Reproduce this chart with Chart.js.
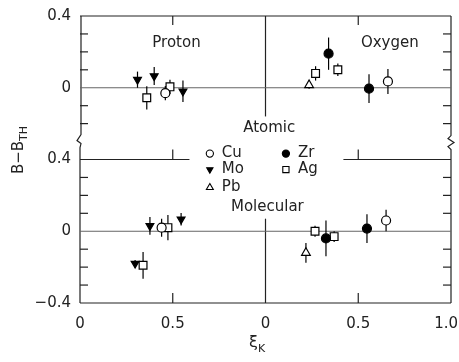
<!DOCTYPE html>
<html>
<head>
<meta charset="utf-8">
<script src="https://cdn.jsdelivr.net/npm/chart.js@4.4.0/dist/chart.umd.min.js"></script>
<style>
  body { margin: 0; background: #fff; }
  #wrap { width: 459px; height: 362px; }
</style>
</head>
<body>
<div id="wrap"><canvas id="grafico"></canvas></div>
<script>
// elementos do alvo
const elementos = ['Cu', 'Mo', 'Pb', 'Zr', 'Ag'];

// [elemento, xi_K, B - B_TH, erro]
const protonAtomico = [
  ['Mo', 0.31, 0.045, 0.045],
  ['Mo', 0.40, 0.065, 0.05],
  ['Mo', 0.555, -0.02, 0.06],
  ['Ag', 0.36, -0.056, 0.065],
  ['Ag', 0.485, 0.005, 0.04],
  ['Cu', 0.46, -0.03, 0.04]
];
const oxigenioAtomico = [
  ['Pb', 0.235, 0.015, 0.02],
  ['Ag', 0.27, 0.08, 0.04],
  ['Ag', 0.39, 0.10, 0.035],
  ['Zr', 0.34, 0.19, 0.09],
  ['Zr', 0.558, -0.005, 0.08],
  ['Cu', 0.66, 0.035, 0.07]
];
const protonMolecular = [
  ['Mo', 0.377, 0.03, 0.05],
  ['Mo', 0.545, 0.067, 0.035],
  ['Mo', 0.297, -0.18, 0.02],
  ['Cu', 0.44, 0.02, 0.05],
  ['Ag', 0.474, 0.02, 0.07],
  ['Ag', 0.34, -0.19, 0.075]
];
const oxigenioMolecular = [
  ['Ag', 0.267, 0.0, 0.03],
  ['Ag', 0.37, -0.03, 0.03],
  ['Pb', 0.218, -0.12, 0.055],
  ['Zr', 0.326, -0.04, 0.1],
  ['Zr', 0.547, 0.015, 0.08],
  ['Cu', 0.65, 0.06, 0.06]
];

// eixos: dois paineis lado a lado e dois empilhados num eixo so
const yTicks = [-0.4, 0, 0.4, 0.8, 1.2];
const yTickLabels = ['\u22120.4', '0', '0.4', '0', '0.4'];
const yMinor = [-0.3, -0.2, -0.1, 0.1, 0.2, 0.3, 0.6, 0.7, 0.9, 1.0, 1.1];
const xTicks = [0, 0.5, 1, 1.5, 2];
// o ultimo leva um espaco no fim para nao sair do canvas
const xTickLabels = ['0', '0.5', '0', '0.5', '1.0\u2007'];

const paineis = [
  { dados: protonAtomico, dx: 0, dy: 0.8 },
  { dados: oxigenioAtomico, dx: 1, dy: 0.8 },
  { dados: protonMolecular, dx: 0, dy: 0 },
  { dados: oxigenioMolecular, dx: 1, dy: 0 }
];

const estilos = {
  Cu: { pointStyle: 'circle', fundo: '#fff', raio: 4.5, rot: 0 },
  Mo: { pointStyle: 'triangle', fundo: '#000', raio: 4.5, rot: 180 },
  Pb: { pointStyle: 'triangle', fundo: '#fff', raio: 5, rot: 0 },
  Zr: { pointStyle: 'circle', fundo: '#000', raio: 4.5, rot: 0 },
  Ag: { pointStyle: 'rect', fundo: '#fff', raio: 5.5, rot: 0 }
};

const FONTE = '"DejaVu Sans", sans-serif';
const COR_TEXTO = '#222';

const datasets = elementos.map(el => {
  const pontos = [];
  paineis.forEach(p => {
    p.dados.filter(d => d[0] === el).forEach(d => {
      pontos.push({ x: p.dx + d[1], y: p.dy + d[2], err: d[3] });
    });
  });
  const e = estilos[el];
  return {
    label: el,
    data: pontos,
    pointStyle: e.pointStyle,
    rotation: e.rot,
    pointRadius: e.raio,
    pointHoverRadius: e.raio,
    backgroundColor: e.fundo,
    borderColor: '#000',
    borderWidth: 1.2,
    showLine: false
  };
});

function linha(ctx, pts) {
  ctx.beginPath();
  ctx.moveTo(pts[0][0], pts[0][1]);
  for (let i = 1; i < pts.length; i++) ctx.lineTo(pts[i][0], pts[i][1]);
  ctx.stroke();
}

const desenhoPlugin = {
  id: 'desenho',
  beforeDatasetsDraw(chart) {
    const { ctx, scales: { x, y } } = chart;
    const X = v => x.getPixelForValue(v);
    const Y = v => y.getPixelForValue(v);
    ctx.save();
    ctx.strokeStyle = '#222';
    ctx.lineWidth = 1.2;

    // moldura
    linha(ctx, [[X(0), Y(1.2)], [X(2), Y(1.2)]]);
    linha(ctx, [[X(0), Y(-0.4)], [X(2), Y(-0.4)]]);
    const yq = Y(0.5);
    linha(ctx, [[X(0) + 1, Y(1.2)], [X(0) + 1, yq - 7], [X(0) - 3, yq - 1], [X(0) + 1, yq + 2], [X(0), yq + 6], [X(0), Y(-0.4)]]);
    linha(ctx, [[X(2), Y(1.2)], [X(2), yq - 6], [X(2) - 3, yq - 3], [X(2) + 3, yq + 1], [X(2) - 3, yq + 5], [X(2), yq + 8], [X(2), Y(-0.4)]]);
    // topo do painel de baixo (interrompido pela legenda)
    linha(ctx, [[X(0), Y(0.4)], [X(0.59), Y(0.4)]]);
    linha(ctx, [[X(1.42), Y(0.4)], [X(2), Y(0.4)]]);
    // divisoria entre proton e oxigenio
    linha(ctx, [[X(1), Y(1.2)], [X(1), Y(0.64)]]);
    linha(ctx, [[X(1), Y(0.07)], [X(1), Y(-0.4)]]);

    // ticks menores para dentro
    yMinor.forEach(v => {
      linha(ctx, [[X(0), Y(v)], [X(0) + 8, Y(v)]]);
      linha(ctx, [[X(2), Y(v)], [X(2) - 8, Y(v)]]);
    });
    [0.5, 1.5].forEach(v => {
      linha(ctx, [[X(v), Y(1.2)], [X(v), Y(1.2) + 9]]);
      linha(ctx, [[X(v), Y(-0.4)], [X(v), Y(-0.4) - 10]]);
      linha(ctx, [[X(v), Y(0.4)], [X(v), Y(0.4) - 10]]);
    });

    // linhas de zero
    ctx.strokeStyle = '#666';
    ctx.lineWidth = 1;
    linha(ctx, [[X(0), Y(0.8)], [X(2), Y(0.8)]]);
    linha(ctx, [[X(0), Y(0)], [X(2), Y(0)]]);

    // barras de erro
    ctx.strokeStyle = '#000';
    ctx.lineWidth = 1.2;
    chart.data.datasets.forEach(ds => {
      ds.data.forEach(p => {
        linha(ctx, [[X(p.x), Y(p.y + p.err)], [X(p.x), Y(p.y - p.err)]]);
      });
    });
    ctx.restore();
  },
  afterDraw(chart) {
    const { ctx, scales: { x, y } } = chart;
    const X = v => x.getPixelForValue(v);
    const Y = v => y.getPixelForValue(v);
    ctx.save();
    ctx.fillStyle = COR_TEXTO;
    ctx.textBaseline = 'middle';
    ctx.font = '15px ' + FONTE;
    ctx.textAlign = 'center';
    ctx.fillText('Proton', X(0.52), Y(1.05));
    ctx.fillText('Oxygen', X(1.67), Y(1.05));
    ctx.fillText('Atomic', X(1.02), Y(0.575));
    ctx.fillText('Molecular', X(1.01), Y(0.135));

    // legenda
    const leg = [
      ['Cu', 0.70, 0.433], ['Mo', 0.70, 0.344], ['Pb', 0.70, 0.244],
      ['Zr', 1.11, 0.433], ['Ag', 1.11, 0.344]
    ];
    ctx.textAlign = 'left';
    ctx.strokeStyle = '#000';
    ctx.lineWidth = 1.1;
    leg.forEach(([el, lx, ly]) => {
      const e = estilos[el];
      ctx.fillStyle = e.fundo;
      Chart.helpers.drawPoint(ctx, { pointStyle: e.pointStyle, rotation: e.rot, radius: e.raio * 0.8, borderWidth: 1.1 }, X(lx), Y(ly));
      ctx.fillStyle = COR_TEXTO;
      ctx.fillText(el, X(lx) + 12, Y(ly));
    });

    // titulo do eixo y
    ctx.save();
    ctx.translate(17, 150);
    ctx.rotate(-Math.PI / 2);
    ctx.textAlign = 'left';
    ctx.textBaseline = 'alphabetic';
    ctx.font = '15px ' + FONTE;
    const base = 'B\u2212B';
    const w = ctx.measureText(base).width;
    ctx.font = '11px ' + FONTE;
    const ws = ctx.measureText('TH').width;
    const ini = -(w + ws) / 2;
    ctx.font = '15px ' + FONTE;
    ctx.fillText(base, ini, 6);
    ctx.font = '11px ' + FONTE;
    ctx.fillText('TH', ini + w, 10);
    ctx.restore();

    // titulo do eixo x
    ctx.textBaseline = 'alphabetic';
    ctx.font = '16px ' + FONTE;
    ctx.fillText('\u03be', 249, 347);
    ctx.font = '11px ' + FONTE;
    ctx.fillText('K', 258, 352);
    ctx.restore();
  }
};

new Chart(document.getElementById('grafico'), {
  type: 'scatter',
  data: { datasets },
  options: {
    responsive: true,
    maintainAspectRatio: false,
    animation: false,
    layout: { padding: { top: 16, right: 8, left: 0, bottom: 0 } },
    plugins: { legend: { display: false }, tooltip: { enabled: false } },
    scales: {
      x: {
        type: 'linear', min: 0, max: 2,
        grid: { display: false, drawTicks: false }, border: { display: false },
        afterBuildTicks: s => { s.ticks = xTicks.map(v => ({ value: v })); },
        afterFit: s => { s.height = 59; s.paddingLeft = 0; s.paddingRight = 0; },
        ticks: {
          padding: 12, color: COR_TEXTO, maxRotation: 0, autoSkip: false,
          font: { family: FONTE, size: 15 },
          callback: (v, i) => xTickLabels[i]
        }
      },
      y: {
        type: 'linear', min: -0.4, max: 1.2,
        grid: { display: false, drawTicks: false }, border: { display: false },
        afterBuildTicks: s => { s.ticks = yTicks.map(v => ({ value: v })); },
        afterFit: s => { s.width = 80; s.paddingTop = 0; s.paddingBottom = 0; },
        ticks: {
          padding: 9, color: COR_TEXTO, autoSkip: false,
          font: { family: FONTE, size: 15 },
          callback: (v, i) => yTickLabels[i]
        }
      }
    }
  },
  plugins: [desenhoPlugin]
});
</script>
</body>
</html>
